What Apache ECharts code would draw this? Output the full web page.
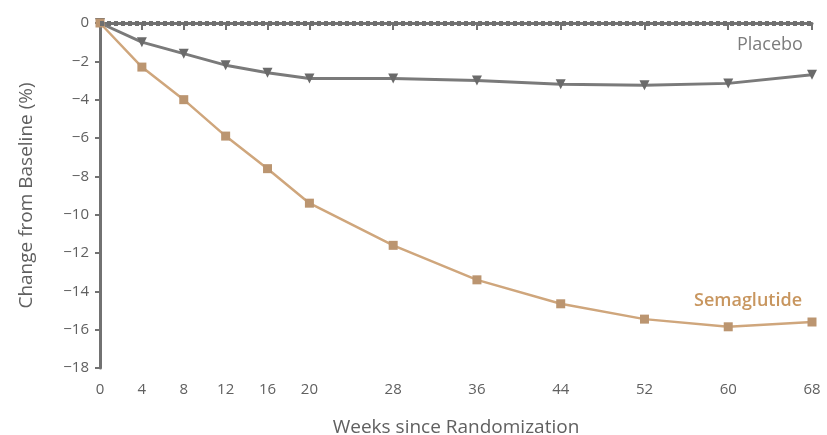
<!DOCTYPE html>
<html><head><meta charset="utf-8">
<script src="https://cdn.jsdelivr.net/npm/echarts@6/dist/echarts.min.js"></script>
<style>html,body{margin:0;padding:0;background:#fff}#c{width:827px;height:435px}</style>
</head><body><div id="c"></div>
<script>
const weeks = [0, 4, 8, 12, 16, 20, 28, 36, 44, 52, 60, 68];
const placebo = [0, -1.0, -1.6, -2.2, -2.6, -2.9, -2.9, -3.0, -3.2, -3.25, -3.15, -2.7];
const semaglutide = [0, -2.3, -4.0, -5.9, -7.6, -9.4, -11.6, -13.4, -14.65, -15.45, -15.85, -15.6];
const yTicks = [0, -2, -4, -6, -8, -10, -12, -14, -16, -18];

const chart = echarts.init(document.getElementById('c'));
const axisColor = '#727272';
const textColor = '#606060';
const font = 'Open Sans';
chart.setOption({
  animation: false,
  grid: {left: 100, right: 15, top: 23, bottom: 67, containLabel: false, outerBoundsMode: 'none'},
  xAxis: {
    type: 'value', min: 0, max: 68,
    name: 'Weeks since Randomization', nameLocation: 'middle', nameGap: 50,
    nameTextStyle: {color: textColor, fontSize: 19, fontFamily: font},
    axisLine: {lineStyle: {color: axisColor, width: 3}},
    axisTick: {customValues: weeks, length: 7, lineStyle: {color: axisColor, width: 2}},
    axisLabel: {customValues: weeks, color: textColor, fontSize: 15, fontFamily: font, margin: 14},
    splitLine: {show: false}
  },
  yAxis: {
    type: 'value', min: -18, max: 0, interval: 2,
    name: 'Change from Baseline (%)', nameLocation: 'middle', nameGap: 64, nameRotate: 90,
    nameTextStyle: {color: textColor, fontSize: 19, fontFamily: font},
    axisLine: {show: true, lineStyle: {color: axisColor, width: 3}},
    axisTick: {show: true, length: 5, lineStyle: {color: axisColor, width: 2}},
    axisLabel: {
      customValues: yTicks, color: textColor, fontSize: 15, fontFamily: font, margin: 11,
      formatter: v => (v < 0 ? '\u2212' + Math.abs(v) : String(v))
    },
    splitLine: {show: false}
  },
  series: [
    {
      name: 'Placebo', type: 'line',
      data: weeks.map((w, i) => [w, placebo[i]]),
      symbol: 'triangle', symbolRotate: 180, symbolSize: 10,
      lineStyle: {color: '#7a7a7a', width: 3},
      itemStyle: {color: '#6a6a6a'},
      markLine: {
        silent: true, symbol: 'none', label: {show: false},
        lineStyle: {color: '#6f6f6f', type: [4, 3], width: 5},
        data: [{yAxis: 0}]
      },
      z: 3
    },
    {
      name: 'Semaglutide', type: 'line',
      data: weeks.map((w, i) => [w, semaglutide[i]]),
      symbol: 'rect', symbolSize: 9,
      lineStyle: {color: '#cfa67c', width: 2.5},
      itemStyle: {color: '#bb9570'},
      z: 4
    }
  ],
  graphic: [
    {type: 'text', x: 737, y: 45, style: {text: 'Placebo', fill: '#7c7c7c', font: '18px "Open Sans"', verticalAlign: 'middle'}},
    {type: 'text', x: 694, y: 301, style: {text: 'Semaglutide', fill: '#c8965f', font: '600 18px "Open Sans"', verticalAlign: 'middle'}}
  ]
});
</script></body></html>
